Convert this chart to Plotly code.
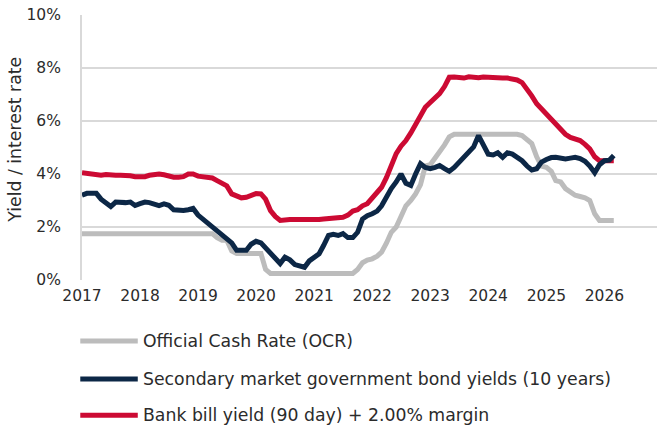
import pandas as pd
import plotly.graph_objects as go

# Monthly observations, Jan 2017 .. Mar 2026
dates = pd.date_range("2017-01-01", "2026-03-01", freq="MS")

ocr = [
    1.75, 1.75, 1.75, 1.75, 1.75, 1.75, 1.75, 1.75, 1.75, 1.75, 1.75, 1.75,  # 2017
    1.75, 1.75, 1.75, 1.75, 1.75, 1.75, 1.75, 1.75, 1.75, 1.75, 1.75, 1.75,  # 2018
    1.75, 1.75, 1.75, 1.75, 1.60, 1.50, 1.50, 1.10, 1.00, 1.00, 1.00, 1.00,  # 2019
    1.00, 1.00, 0.40, 0.25, 0.25, 0.25, 0.25, 0.25, 0.25, 0.25, 0.25, 0.25,  # 2020
    0.25, 0.25, 0.25, 0.25, 0.25, 0.25, 0.25, 0.25, 0.25, 0.40, 0.65, 0.75,  # 2021
    0.80, 0.90, 1.05, 1.40, 1.80, 2.00, 2.40, 2.80, 3.00, 3.25, 3.60, 4.30,  # 2022
    4.35, 4.60, 4.80, 5.10, 5.40, 5.50, 5.50, 5.50, 5.50, 5.50, 5.50, 5.50,  # 2023
    5.50, 5.50, 5.50, 5.50, 5.50, 5.50, 5.50, 5.45, 5.30, 5.15, 4.65, 4.30,  # 2024
    4.25, 4.10, 3.75, 3.70, 3.45, 3.30, 3.20, 3.15, 3.10, 3.00, 2.50, 2.25,  # 2025
    2.25, 2.25, 2.25,                                                        # 2026
]

bond10 = [
    3.20, 3.27, 3.27, 3.27, 3.05, 2.90, 2.77, 2.94, 2.92, 2.92, 2.94, 2.81,  # 2017
    2.88, 2.94, 2.92, 2.85, 2.81, 2.87, 2.82, 2.65, 2.62, 2.62, 2.65, 2.70,  # 2018
    2.45, 2.30, 2.15, 2.00, 1.90, 1.75, 1.60, 1.40, 1.12, 1.11, 1.12, 1.35,  # 2019
    1.46, 1.40, 1.20, 1.00, 0.85, 0.62, 0.86, 0.76, 0.58, 0.52, 0.48, 0.72,  # 2020
    0.85, 0.99, 1.30, 1.68, 1.72, 1.68, 1.75, 1.60, 1.60, 1.80, 2.30, 2.43,  # 2021
    2.50, 2.60, 2.80, 3.15, 3.45, 3.70, 4.00, 3.65, 3.57, 4.00, 4.39, 4.25,  # 2022
    4.20, 4.25, 4.32, 4.20, 4.10, 4.25, 4.45, 4.65, 4.82, 5.02, 5.45, 5.08,  # 2023
    4.75, 4.72, 4.80, 4.63, 4.80, 4.75, 4.65, 4.50, 4.30, 4.15, 4.20, 4.45,  # 2024
    4.55, 4.62, 4.63, 4.60, 4.57, 4.60, 4.63, 4.58, 4.48, 4.30, 4.05, 4.35,  # 2025
    4.50, 4.52, 4.70,                                                        # 2026
]

bank_bill = [
    4.05, 4.02, 4.00, 3.98, 3.95, 3.98, 3.95, 3.95, 3.95, 3.95, 3.93, 3.90,  # 2017
    3.88, 3.90, 3.95, 4.00, 4.00, 3.97, 3.92, 3.88, 3.88, 3.90, 4.00, 4.00,  # 2018
    3.92, 3.90, 3.88, 3.85, 3.75, 3.62, 3.55, 3.25, 3.19, 3.10, 3.12, 3.20,  # 2019
    3.26, 3.25, 3.05, 2.62, 2.40, 2.25, 2.28, 2.28, 2.28, 2.28, 2.28, 2.27,  # 2020
    2.25, 2.28, 2.30, 2.32, 2.33, 2.35, 2.37, 2.45, 2.60, 2.65, 2.80, 2.88,  # 2021
    3.10, 3.26, 3.50, 3.87, 4.30, 4.77, 5.05, 5.26, 5.55, 5.90, 6.20, 6.52,  # 2022
    6.70, 6.90, 7.03, 7.30, 7.65, 7.66, 7.64, 7.62, 7.67, 7.64, 7.63, 7.66,  # 2023
    7.64, 7.62, 7.63, 7.62, 7.62, 7.60, 7.55, 7.45, 7.22, 6.95, 6.65, 6.45,  # 2024
    6.27, 6.10, 5.85, 5.65, 5.50, 5.38, 5.30, 5.26, 5.12, 4.95, 4.65, 4.50,  # 2025
    4.50, 4.48, 4.50,                                                        # 2026
]

series_names = [
    "Official Cash Rate (OCR)",
    "Secondary market government bond yields (10 years)",
    "Bank bill yield (90 day) + 2.00% margin",
]
series_values = [ocr, bond10, bank_bill]
series_colors = ["#bcbcbc", "#0c2746", "#cc0a33"]

y_ticks = [0, 2, 4, 6, 8, 10]
y_tick_labels = ["0%", "2%", "4%", "6%", "8%", "10%"]
x_tick_years = [str(y) for y in range(2017, 2027)]
y_title = "Yield / interest rate"

FONT = "DejaVu Sans"
TXT = "#2b2b2b"
FS_TICK = 15.5
FS_TEXT = 17.3

fig = go.Figure()
draw_order = [0, 2, 1]
for i in draw_order:
    fig.add_trace(go.Scatter(
        x=dates, y=series_values[i], mode="lines", name=series_names[i],
        line=dict(color=series_colors[i], width=5), showlegend=False,
    ))

# custom legend (long line samples) below the chart
legend_y = [-0.230, -0.374, -0.510]
for i, name in enumerate(series_names):
    fig.add_shape(type="line", xref="paper", yref="paper",
                  x0=-0.003, x1=0.097, y0=legend_y[i], y1=legend_y[i],
                  line=dict(color=series_colors[i], width=5))
    fig.add_annotation(xref="paper", yref="paper", x=0.103, y=legend_y[i],
                       text=name, showarrow=False, xanchor="left", yanchor="middle",
                       font=dict(family=FONT, size=FS_TEXT, color=TXT))

# y-axis title
fig.add_annotation(xref="paper", yref="paper", x=-0.118, y=0.53,
                   text=y_title, textangle=-90, showarrow=False,
                   xanchor="center", yanchor="middle",
                   font=dict(family=FONT, size=FS_TEXT, color=TXT))

fig.update_layout(
    width=659, height=430,
    margin=dict(l=82, r=2, t=15, b=150),
    paper_bgcolor="white", plot_bgcolor="white",
    font=dict(family=FONT, size=FS_TICK, color=TXT),
    xaxis=dict(
        range=["2017-01-01", "2026-11-28"],
        tickvals=[f"{y}-01-01" for y in x_tick_years],
        ticktext=x_tick_years,
        showgrid=False, zeroline=False, showline=False,
        ticks="", ticklabelstandoff=4,
    ),
    yaxis=dict(
        range=[0, 10], tickvals=y_ticks, ticktext=y_tick_labels,
        showgrid=True, gridcolor="#d9d9d9", gridwidth=2,
        zeroline=False, showline=True, linecolor="#d9d9d9", linewidth=2,
        ticks="", ticklabelstandoff=16,
    ),
)

fig.write_html("out.html")
